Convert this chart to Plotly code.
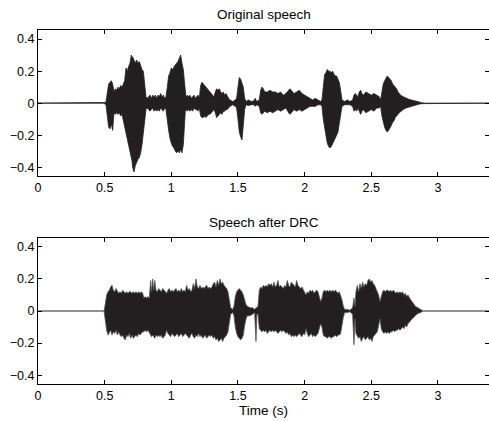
import plotly.graph_objects as go

# ---- Data (envelope of the waveform, seconds / amplitude) ----
t_orig = [0.000, 0.490, 0.500, 0.510, 0.520, 0.530, 0.540, 0.550, 0.560, 0.570, 0.580, 0.590, 0.600, 0.610, 0.620, 0.630, 0.640, 0.650, 0.660, 0.670,
          0.680, 0.690, 0.700, 0.705, 0.710, 0.720, 0.730, 0.740, 0.750, 0.760, 0.770, 0.780, 0.790, 0.800, 0.810, 0.820, 0.830, 0.840, 0.850, 0.860,
          0.870, 0.880, 0.890, 0.900, 0.910, 0.920, 0.930, 0.940, 0.950, 0.960, 0.970, 0.980, 0.990, 1.000, 1.010, 1.020, 1.030, 1.040, 1.050, 1.060,
          1.070, 1.080, 1.090, 1.100, 1.105, 1.110, 1.120, 1.130, 1.140, 1.150, 1.160, 1.170, 1.180, 1.190, 1.200, 1.210, 1.220, 1.230, 1.240, 1.250,
          1.260, 1.270, 1.280, 1.290, 1.300, 1.310, 1.320, 1.330, 1.340, 1.350, 1.360, 1.370, 1.380, 1.390, 1.400, 1.410, 1.420, 1.430, 1.440, 1.460,
          1.480, 1.490, 1.500, 1.510, 1.520, 1.530, 1.540, 1.550, 1.560, 1.580, 1.600, 1.620, 1.630, 1.640, 1.660, 1.670, 1.680, 1.690, 1.700, 1.720,
          1.740, 1.760, 1.780, 1.800, 1.820, 1.840, 1.860, 1.880, 1.890, 1.900, 1.920, 1.940, 1.960, 1.980, 2.000, 2.020, 2.040, 2.060, 2.080, 2.100,
          2.120, 2.130, 2.140, 2.150, 2.160, 2.170, 2.180, 2.190, 2.200, 2.210, 2.220, 2.230, 2.240, 2.250, 2.260, 2.270, 2.280, 2.300, 2.320, 2.340,
          2.360, 2.370, 2.380, 2.390, 2.400, 2.410, 2.420, 2.430, 2.440, 2.450, 2.460, 2.480, 2.500, 2.520, 2.540, 2.560, 2.570, 2.580, 2.590, 2.600,
          2.610, 2.620, 2.630, 2.640, 2.650, 2.660, 2.670, 2.680, 2.690, 2.700, 2.710, 2.720, 2.740, 2.760, 2.780, 2.800, 2.820, 2.840, 2.860, 2.880,
          2.900, 3.400]
up_orig = [0, 0, 0.004, 0.008, 0.06, 0.12, 0.13, 0.14, 0.12, 0.07, 0.09, 0.08, 0.10, 0.09, 0.11, 0.10, 0.12, 0.14, 0.22, 0.20,
           0.23, 0.25, 0.30, 0.28, 0.29, 0.27, 0.25, 0.27, 0.25, 0.26, 0.23, 0.21, 0.20, 0.12, 0.04, 0.03, 0.04, 0.05, 0.03, 0.05,
           0.04, 0.05, 0.03, 0.05, 0.04, 0.06, 0.04, 0.05, 0.03, 0.04, 0.10, 0.17, 0.19, 0.22, 0.21, 0.23, 0.24, 0.25, 0.26, 0.28,
           0.30, 0.25, 0.21, 0.12, 0.05, 0.04, 0.05, 0.04, 0.05, 0.03, 0.04, 0.05, 0.03, 0.04, 0.05, 0.03, 0.11, 0.13, 0.12, 0.11,
           0.10, 0.09, 0.08, 0.07, 0.06, 0.05, 0.04, 0.07, 0.09, 0.08, 0.09, 0.07, 0.06, 0.07, 0.05, 0.06, 0.04, 0.03, 0.02, 0.01,
           0.02, 0.03, 0.10, 0.16, 0.15, 0.13, 0.10, 0.03, 0.01, 0.02, 0.01, 0.015, 0.03, 0.01, 0.02, 0.08, 0.10, 0.09, 0.07, 0.07,
           0.08, 0.07, 0.07, 0.06, 0.07, 0.05, 0.06, 0.08, 0.09, 0.08, 0.06, 0.07, 0.08, 0.06, 0.05, 0.04, 0.03, 0.02, 0.03, 0.02,
           0.01, 0.02, 0.12, 0.18, 0.19, 0.21, 0.20, 0.20, 0.19, 0.20, 0.18, 0.17, 0.17, 0.15, 0.13, 0.08, 0.02, 0.01, 0.02, 0.01,
           0.02, 0.05, 0.06, 0.05, 0.04, 0.07, 0.08, 0.06, 0.05, 0.06, 0.07, 0.06, 0.05, 0.06, 0.05, 0.04, 0.02, 0.08, 0.12, 0.14,
           0.16, 0.17, 0.16, 0.15, 0.14, 0.12, 0.11, 0.10, 0.09, 0.07, 0.06, 0.05, 0.04, 0.03, 0.025, 0.02, 0.015, 0.01, 0.006, 0.003,
           0, 0]
lo_orig = [0, 0, -0.004, -0.01, -0.08, -0.15, -0.16, -0.13, -0.17, -0.06, -0.07, -0.06, -0.07, -0.06, -0.08, -0.07, -0.10, -0.14, -0.20, -0.22,
           -0.26, -0.30, -0.34, -0.36, -0.40, -0.43, -0.39, -0.37, -0.35, -0.34, -0.31, -0.26, -0.22, -0.12, -0.04, -0.03, -0.04, -0.05, -0.04, -0.03,
           -0.05, -0.04, -0.05, -0.04, -0.05, -0.03, -0.04, -0.05, -0.03, -0.04, -0.10, -0.17, -0.22, -0.25, -0.27, -0.28, -0.30, -0.31, -0.30, -0.31,
           -0.29, -0.31, -0.26, -0.12, -0.05, -0.04, -0.05, -0.04, -0.05, -0.04, -0.05, -0.03, -0.04, -0.04, -0.05, -0.03, -0.08, -0.09, -0.09, -0.08,
           -0.09, -0.08, -0.07, -0.07, -0.06, -0.05, -0.04, -0.06, -0.09, -0.08, -0.07, -0.06, -0.07, -0.05, -0.05, -0.04, -0.04, -0.03, -0.02, -0.01,
           -0.02, -0.03, -0.10, -0.18, -0.21, -0.23, -0.17, -0.04, -0.01, -0.015, -0.01, -0.01, -0.02, -0.01, -0.02, -0.06, -0.07, -0.06, -0.05, -0.06,
           -0.05, -0.06, -0.05, -0.04, -0.05, -0.04, -0.03, -0.06, -0.07, -0.06, -0.04, -0.05, -0.04, -0.05, -0.04, -0.03, -0.02, -0.02, -0.02, -0.01,
           -0.01, -0.02, -0.10, -0.16, -0.20, -0.25, -0.27, -0.28, -0.27, -0.25, -0.24, -0.22, -0.20, -0.18, -0.15, -0.08, -0.02, -0.01, -0.01, -0.01,
           -0.02, -0.05, -0.04, -0.05, -0.03, -0.05, -0.07, -0.05, -0.04, -0.05, -0.06, -0.05, -0.04, -0.05, -0.03, -0.03, -0.02, -0.08, -0.12, -0.15,
           -0.17, -0.18, -0.17, -0.16, -0.14, -0.12, -0.11, -0.09, -0.08, -0.07, -0.06, -0.05, -0.04, -0.03, -0.025, -0.02, -0.015, -0.01, -0.006, -0.003,
           0, 0]

t_drc = [0.000, 0.495, 0.500, 0.505, 0.515, 0.525, 0.535, 0.545, 0.555, 0.565, 0.575, 0.585, 0.595, 0.605, 0.615, 0.625, 0.635, 0.645, 0.655, 0.665,
         0.675, 0.685, 0.695, 0.705, 0.715, 0.725, 0.735, 0.745, 0.755, 0.765, 0.775, 0.785, 0.795, 0.805, 0.815, 0.825, 0.835, 0.845, 0.852, 0.860,
         0.868, 0.876, 0.885, 0.895, 0.905, 0.915, 0.925, 0.935, 0.945, 0.955, 0.965, 0.975, 0.985, 0.995, 1.005, 1.015, 1.025, 1.035, 1.045, 1.055,
         1.065, 1.075, 1.085, 1.095, 1.105, 1.115, 1.125, 1.135, 1.145, 1.155, 1.165, 1.175, 1.185, 1.195, 1.205, 1.215, 1.225, 1.235, 1.245, 1.255,
         1.265, 1.275, 1.285, 1.295, 1.305, 1.315, 1.325, 1.335, 1.345, 1.355, 1.365, 1.375, 1.385, 1.395, 1.405, 1.415, 1.425, 1.435, 1.445, 1.460,
         1.470, 1.480, 1.490, 1.500, 1.510, 1.520, 1.530, 1.540, 1.550, 1.560, 1.570, 1.590, 1.610, 1.625, 1.635, 1.642, 1.650, 1.660, 1.670, 1.680,
         1.690, 1.700, 1.710, 1.720, 1.730, 1.740, 1.750, 1.760, 1.770, 1.780, 1.790, 1.800, 1.810, 1.820, 1.830, 1.840, 1.850, 1.860, 1.870, 1.880,
         1.890, 1.900, 1.910, 1.920, 1.930, 1.940, 1.950, 1.960, 1.970, 1.980, 1.990, 2.000, 2.010, 2.020, 2.030, 2.040, 2.050, 2.060, 2.070, 2.080,
         2.090, 2.100, 2.110, 2.120, 2.130, 2.140, 2.150, 2.160, 2.170, 2.180, 2.190, 2.200, 2.210, 2.220, 2.230, 2.240, 2.250, 2.260, 2.270, 2.280,
         2.290, 2.300, 2.320, 2.340, 2.360, 2.370, 2.378, 2.385, 2.395, 2.405, 2.415, 2.425, 2.435, 2.445, 2.455, 2.465, 2.475, 2.485, 2.495, 2.505,
         2.515, 2.525, 2.535, 2.545, 2.555, 2.565, 2.575, 2.585, 2.595, 2.605, 2.615, 2.625, 2.635, 2.645, 2.655, 2.665, 2.675, 2.685, 2.695, 2.705,
         2.715, 2.725, 2.735, 2.745, 2.755, 2.765, 2.775, 2.785, 2.795, 2.805, 2.815, 2.830, 2.850, 2.870, 2.890, 3.400]
up_drc = [0, 0, 0.02, 0.06, 0.10, 0.12, 0.13, 0.15, 0.16, 0.13, 0.12, 0.14, 0.12, 0.11, 0.12, 0.11, 0.13, 0.12, 0.11, 0.12,
          0.11, 0.12, 0.12, 0.11, 0.12, 0.11, 0.12, 0.11, 0.12, 0.11, 0.12, 0.11, 0.08, 0.09, 0.08, 0.09, 0.08, 0.19, 0.12, 0.20,
          0.13, 0.19, 0.13, 0.12, 0.14, 0.13, 0.12, 0.14, 0.13, 0.12, 0.11, 0.13, 0.14, 0.12, 0.13, 0.12, 0.13, 0.14, 0.12, 0.13,
          0.12, 0.14, 0.12, 0.13, 0.12, 0.16, 0.13, 0.14, 0.12, 0.13, 0.17, 0.14, 0.20, 0.15, 0.14, 0.16, 0.14, 0.15, 0.14, 0.15,
          0.16, 0.14, 0.15, 0.14, 0.15, 0.17, 0.18, 0.15, 0.19, 0.16, 0.20, 0.17, 0.18, 0.16, 0.15, 0.14, 0.12, 0.08, 0.02, 0.01,
          0.03, 0.09, 0.12, 0.13, 0.14, 0.13, 0.12, 0.10, 0.07, 0.04, 0.03, 0.02, 0.02, 0.01, 0.02, 0.02, 0.03, 0.13, 0.15, 0.14,
          0.16, 0.15, 0.16, 0.15, 0.17, 0.16, 0.17, 0.15, 0.18, 0.15, 0.16, 0.19, 0.15, 0.16, 0.15, 0.14, 0.16, 0.15, 0.19, 0.16,
          0.15, 0.18, 0.17, 0.16, 0.15, 0.19, 0.16, 0.15, 0.14, 0.15, 0.13, 0.12, 0.10, 0.12, 0.11, 0.13, 0.12, 0.13, 0.11, 0.12,
          0.13, 0.12, 0.09, 0.06, 0.08, 0.12, 0.13, 0.12, 0.13, 0.12, 0.13, 0.12, 0.13, 0.12, 0.13, 0.12, 0.11, 0.12, 0.10, 0.07,
          0.03, 0.01, 0.01, 0.005, 0.02, 0.08, 0.03, 0.12, 0.16, 0.12, 0.17, 0.14, 0.18, 0.15, 0.17, 0.16, 0.19, 0.20, 0.18, 0.19,
          0.17, 0.16, 0.14, 0.12, 0.10, 0.06, 0.10, 0.12, 0.13, 0.12, 0.13, 0.13, 0.12, 0.13, 0.12, 0.13, 0.12, 0.11, 0.12, 0.11,
          0.12, 0.11, 0.12, 0.10, 0.11, 0.09, 0.10, 0.08, 0.07, 0.06, 0.05, 0.03, 0.02, 0.01, 0, 0]
lo_drc = [0, 0, -0.02, -0.05, -0.12, -0.15, -0.14, -0.12, -0.15, -0.13, -0.14, -0.12, -0.15, -0.13, -0.15, -0.16, -0.15, -0.17, -0.18, -0.15,
          -0.16, -0.14, -0.17, -0.15, -0.17, -0.16, -0.15, -0.16, -0.14, -0.15, -0.14, -0.13, -0.13, -0.12, -0.13, -0.12, -0.14, -0.15, -0.16, -0.15,
          -0.16, -0.17, -0.15, -0.16, -0.15, -0.16, -0.15, -0.17, -0.16, -0.15, -0.12, -0.14, -0.15, -0.16, -0.14, -0.15, -0.16, -0.15, -0.14, -0.16,
          -0.15, -0.14, -0.16, -0.15, -0.14, -0.15, -0.16, -0.17, -0.15, -0.14, -0.16, -0.17, -0.15, -0.16, -0.14, -0.16, -0.15, -0.17, -0.16, -0.15,
          -0.17, -0.16, -0.15, -0.16, -0.15, -0.17, -0.16, -0.18, -0.17, -0.19, -0.18, -0.17, -0.19, -0.17, -0.16, -0.15, -0.13, -0.09, -0.02, -0.01,
          -0.03, -0.10, -0.14, -0.16, -0.17, -0.18, -0.17, -0.15, -0.09, -0.05, -0.03, -0.03, -0.02, -0.01, -0.19, -0.02, -0.02, -0.11, -0.12, -0.13,
          -0.12, -0.13, -0.12, -0.14, -0.13, -0.12, -0.13, -0.12, -0.13, -0.12, -0.13, -0.14, -0.13, -0.12, -0.13, -0.12, -0.13, -0.14, -0.13, -0.15,
          -0.14, -0.16, -0.15, -0.16, -0.15, -0.16, -0.15, -0.14, -0.15, -0.16, -0.14, -0.15, -0.11, -0.14, -0.16, -0.15, -0.14, -0.16, -0.15, -0.16,
          -0.15, -0.14, -0.12, -0.08, -0.10, -0.15, -0.16, -0.16, -0.17, -0.16, -0.16, -0.17, -0.16, -0.16, -0.15, -0.16, -0.15, -0.15, -0.14, -0.10,
          -0.04, -0.01, -0.01, -0.005, -0.02, -0.21, -0.05, -0.14, -0.15, -0.17, -0.16, -0.19, -0.17, -0.16, -0.18, -0.17, -0.16, -0.18, -0.17, -0.19,
          -0.16, -0.15, -0.14, -0.13, -0.10, -0.05, -0.11, -0.13, -0.14, -0.13, -0.14, -0.13, -0.14, -0.13, -0.13, -0.12, -0.13, -0.12, -0.12, -0.11,
          -0.12, -0.11, -0.10, -0.11, -0.09, -0.10, -0.08, -0.07, -0.06, -0.05, -0.04, -0.03, -0.015, -0.01, 0, 0]

x_ticks = [0, 0.5, 1, 1.5, 2, 2.5, 3]
x_tick_labels = ["0", "0.5", "1", "1.5", "2", "2.5", "3"]
y_ticks = [-0.4, -0.2, 0, 0.2, 0.4]
y_tick_labels = ["\u22120.4", "\u22120.2", "0", "0.2", "0.4"]
titles = ["Original speech", "Speech after DRC"]
x_title = "Time (s)"

WAVE = "#231f20"
FONT = "Liberation Sans, Arial, Helvetica, sans-serif"
TICK_SIZE = 12.5
TITLE_SIZE = 13.5

fig = go.Figure()
for i, (t, up, lo) in enumerate([(t_orig, up_orig, lo_orig), (t_drc, up_drc, lo_drc)]):
    ax = "" if i == 0 else "2"
    fig.add_trace(go.Scatter(
        x=list(t) + list(t)[::-1],
        y=list(up) + list(lo)[::-1],
        fill="toself", fillcolor=WAVE, mode="lines",
        line=dict(color=WAVE if i == 0 else "#555555", width=0.8),
        xaxis="x" + ax, yaxis="y" + ax, showlegend=False, hoverinfo="skip"))

axis_common = dict(
    showgrid=False, zeroline=False, showline=True, linecolor="black", linewidth=1,
    mirror="ticks", ticks="inside", ticklen=4, tickcolor="black", tickwidth=1,
    tickfont=dict(family=FONT, size=TICK_SIZE, color="black"),
)
X_RANGE = [0, 3.383]
Y_RANGE = [-0.455, 0.457]

fig.update_layout(
    width=489, height=421,
    margin=dict(l=38, r=0, t=30, b=37),
    paper_bgcolor="white", plot_bgcolor="white",
    font=dict(family=FONT, size=TICK_SIZE, color="black"),
    xaxis=dict(domain=[0, 1], anchor="y", range=X_RANGE, tickvals=x_ticks, ticktext=x_tick_labels, **axis_common),
    yaxis=dict(domain=[0.5876, 1], anchor="x", range=Y_RANGE, tickvals=y_ticks, ticktext=y_tick_labels, **axis_common),
    xaxis2=dict(domain=[0, 1], anchor="y2", range=X_RANGE, tickvals=x_ticks, ticktext=x_tick_labels,
                title=dict(text=x_title, font=dict(family=FONT, size=TITLE_SIZE, color="black"), standoff=0), **axis_common),
    yaxis2=dict(domain=[0, 0.4133], anchor="x2", range=Y_RANGE, tickvals=y_ticks, ticktext=y_tick_labels, **axis_common),
    annotations=[
        dict(text=titles[0], x=0.5, xref="x domain", y=1, yref="y domain", yanchor="bottom", yshift=6,
             showarrow=False, font=dict(family=FONT, size=TITLE_SIZE, color="black")),
        dict(text=titles[1], x=0.5, xref="x2 domain", y=1, yref="y2 domain", yanchor="bottom", yshift=6,
             showarrow=False, font=dict(family=FONT, size=TITLE_SIZE, color="black")),
    ],
)

fig.write_html("out.html", config={"displayModeBar": False},
               post_script="document.body.style.margin='0';document.body.style.overflow='hidden';")
